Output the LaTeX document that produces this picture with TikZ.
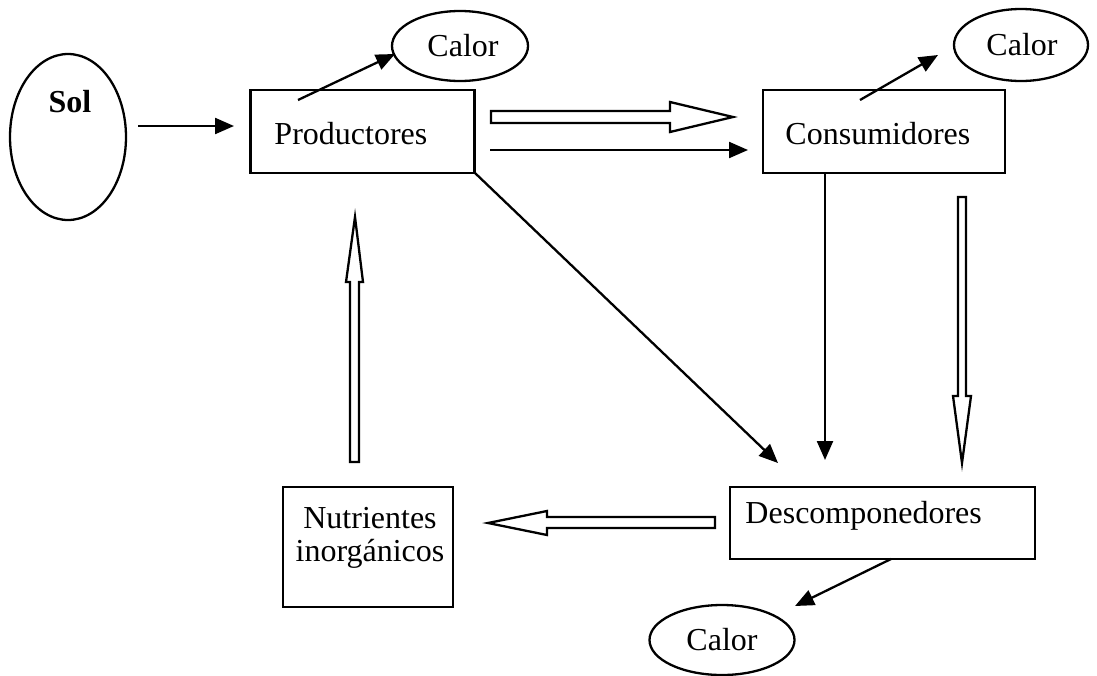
\documentclass[tikz,border=0pt]{standalone}
\usepackage{fontspec}
\setmainfont{Liberation Serif}
\usetikzlibrary{arrows.meta,shapes.geometric}
\begin{document}
\begin{tikzpicture}[x=1pt,y=-1pt,line width=2.3pt,
  box/.style={draw,rectangle,inner sep=0pt},
  oval/.style={draw,ellipse,inner sep=0pt},
  txt/.style={font=\fontsize{32}{35}\selectfont},
  arr/.style={-{Triangle[length=19pt,width=16pt]}},
  hollow/.style={draw,fill=white,line width=2.3pt,line join=miter}]
\useasboundingbox (0,0) rectangle (1097,675);
% nodes
\node[oval,minimum width=116pt,minimum height=166pt] (sol) at (68,137) {};
\node[txt,font=\fontsize{32}{35}\selectfont\bfseries] (soltxt) at (70,102) {Sol};
\node[box,minimum width=224pt,minimum height=83pt] (prod) at (362.5,131.5) {};
\node[txt,anchor=west] (prodtxt) at (270,134) {Productores};
\node[box,minimum width=242pt,minimum height=83pt] (cons) at (884,131.5) {};
\node[txt,anchor=west] (constxt) at (781,134) {Consumidores};
\node[box,minimum width=305pt,minimum height=72pt] (desc) at (882.5,523) {};
\node[txt,anchor=west] (desctxt) at (741,516) {Descomponedores};
\node[box,minimum width=170pt,minimum height=120pt] (nutr) at (368,547) {};
\node[txt,align=center] (nutrtxt) at (370,538) {Nutrientes\\[-2pt]inorgánicos};
\node[oval,minimum width=136pt,minimum height=70pt] (c1) at (460,46) {};
\node[txt] (c1t) at (463,46) {Calor};
\node[oval,minimum width=134pt,minimum height=72pt] (c2) at (1021,45) {};
\node[txt] (c2t) at (1022,45) {Calor};
\node[oval,minimum width=145pt,minimum height=70pt] (c3) at (722,640) {};
\node[txt] (c3t) at (722,640) {Calor};
% coordinates
\coordinate (a1s) at (138,126); \coordinate (a1e) at (234,126);
\coordinate (p1) at (298,100); \coordinate (p1e) at (395,54);
\coordinate (q1) at (860,100); \coordinate (q1e) at (938,55);
\coordinate (m1) at (490,150); \coordinate (m1e) at (748,150);
\coordinate (dg1) at (475,173); \coordinate (dg2) at (778,463);
\coordinate (v1) at (825,173); \coordinate (v2) at (825,460);
\coordinate (d1) at (891,559); \coordinate (d2) at (795,606);
% solid arrows
\draw[arr] (a1s) -- (a1e);
\draw[arr] (p1) -- (p1e);
\draw[arr] (q1) -- (q1e);
\draw[arr] (m1) -- (m1e);
\draw[arr] (dg1) -- (dg2);
\draw[arr] (v1) -- (v2);
\draw[arr] (d1) -- (d2);
% hollow arrows
\draw[hollow] (491,111) -- (670,111) -- (670,102) -- (733,117) -- (670,132) -- (670,123) -- (491,123) -- cycle;
\draw[hollow] (958,197) -- (966,197) -- (966,396) -- (971,396) -- (962,463) -- (953,396) -- (958,396) -- cycle;
\draw[hollow] (715,517) -- (547,517) -- (547,511) -- (488,523) -- (547,535) -- (547,528) -- (715,528) -- cycle;
\draw[hollow] (350,462) -- (350,282) -- (346,282) -- (355,217) -- (363,282) -- (359,282) -- (359,462) -- cycle;
\end{tikzpicture}
\end{document}
